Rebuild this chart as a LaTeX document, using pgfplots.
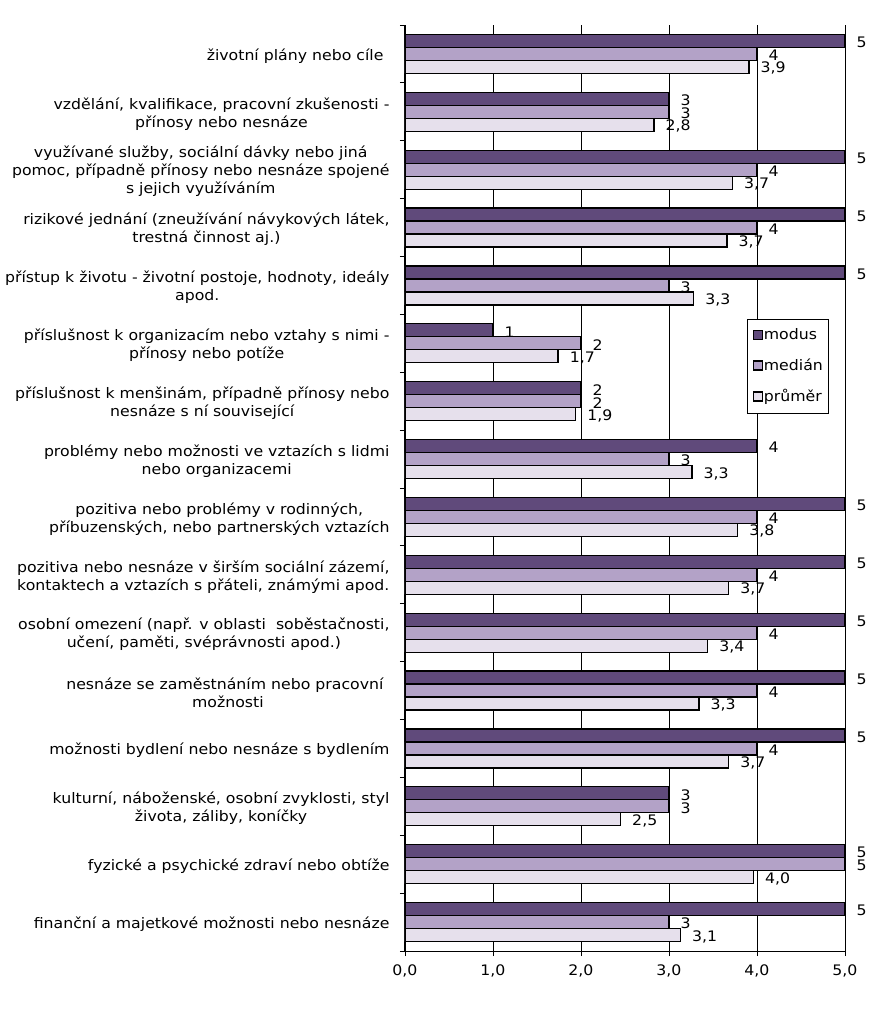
\documentclass[border=0pt]{standalone}
\usepackage{pgfplots}
\pgfplotsset{compat=1.18}
\usepackage{pgfplotstable}
\usepackage{fontspec}
\setmainfont{DejaVu Sans}[FakeStretch=1.085]
\definecolor{cmod}{HTML}{604A7B}
\definecolor{cmed}{HTML}{B3A2C7}
\definecolor{cavg}{HTML}{E6E0EC}

\pgfplotstableread{
y x lab
0 5 5
1 3 3
2 5 5
3 5 5
4 5 5
5 1 1
6 2 2
7 4 4
8 5 5
9 5 5
10 5 5
11 5 5
12 5 5
13 3 3
14 5 5
15 5 5
}\modus
\pgfplotstableread{
y x lab
0 4 4
1 3 3
2 4 4
3 4 4
4 3 3
5 2 2
6 2 2
7 3 3
8 4 4
9 4 4
10 4 4
11 4 4
12 4 4
13 3 3
14 5 5
15 3 3
}\median
\pgfplotstableread{
y x lab
0 3.91 {3,9}
1 2.83 {2,8}
2 3.72 {3,7}
3 3.66 {3,7}
4 3.28 {3,3}
5 1.74 {1,7}
6 1.94 {1,9}
7 3.26 {3,3}
8 3.78 {3,8}
9 3.68 {3,7}
10 3.44 {3,4}
11 3.34 {3,3}
12 3.68 {3,7}
13 2.45 {2,5}
14 3.96 {4,0}
15 3.13 {3,1}
}\prumer

\newcommand{\lf}{\fontsize{14.5}{18}\selectfont}

\begin{document}
\begin{tikzpicture}
\begin{axis}[
  at={(0pt,0pt)}, anchor=south west,
  scale only axis, width=440pt, height=926pt,
  xbar=0pt, bar width=13pt,
  xmin=0, xmax=5,
  ymin=-0.5, ymax=15.5, y dir=reverse,
  axis x line*=bottom, axis y line*=left,
  axis line style={-, line width=1pt, black},
  xtick={0,...,5}, xmajorgrids,
  grid style={black, line width=0.9pt},
  xticklabel style={font=\lf, yshift=-5pt},
  /pgf/number format/fixed, /pgf/number format/fixed zerofill,
  /pgf/number format/precision=1, /pgf/number format/use comma,
  /pgf/number format/assume math mode=true,
  tick align=outside,
  major tick length=5pt, minor tick length=5pt,
  tick style={black, line width=0.9pt},
  ytick={0,...,15},
  major y tick style={draw=none},
  minor ytick={-0.5,0.5,...,15.5},
  yticklabel style={font=\lf, align=center, xshift=-7pt, yshift=-2pt},
  yticklabels={
    {životní plány nebo cíle\hspace*{6pt}},
    {vzdělání, kvalifikace, pracovní zkušenosti -\\přínosy nebo nesnáze},
    {využívané služby, sociální dávky nebo jiná\\pomoc, případně přínosy nebo nesnáze spojené\\s jejich využíváním},
    {rizikové jednání (zneužívání návykových látek,\\trestná činnost aj.)},
    {přístup k životu - životní postoje, hodnoty, ideály\\apod.},
    {příslušnost k organizacím nebo vztahy s nimi -\\přínosy nebo potíže},
    {příslušnost k menšinám, případně přínosy nebo\\nesnáze s ní související},
    {problémy nebo možnosti ve vztazích s lidmi\\nebo organizacemi},
    {pozitiva nebo problémy v rodinných,\\příbuzenských, nebo partnerských vztazích},
    {pozitiva nebo nesnáze v širším sociální zázemí,\\kontaktech a vztazích s přáteli, známými apod.},
    {osobní omezení (např. v oblasti \ soběstačnosti,\\učení, paměti, svéprávnosti apod.)},
    {nesnáze se zaměstnáním nebo pracovní\hspace*{6pt}\\možnosti},
    {možnosti bydlení nebo nesnáze s bydlením},
    {kulturní, náboženské, osobní zvyklosti, styl\\života, záliby, koníčky},
    {fyzické a psychické zdraví nebo obtíže},
    {finanční a majetkové možnosti nebo nesnáze}
  },
  nodes near coords,
  point meta=explicit symbolic,
  nodes near coords style={font=\lf, anchor=west, inner sep=0pt, xshift=11pt, yshift=-1.5pt, black},
  legend style={at={(0.778,0.683)}, anchor=north west, draw=black, line width=0.8pt,
    font=\lf, row sep=15.5pt, inner xsep=5pt, inner ysep=9pt,
    nodes={inner sep=1pt}},
  legend cell align=left,
]
\pgfplotsset{legend image code/.code={\draw[#1, line width=1.2pt] (0pt,-4.5pt) rectangle (9pt,4.5pt);}}
\addplot[fill=cmod, draw=black, line width=1.3pt, bar shift=13pt] table[x=x, y=y, meta=lab]{\modus};
\addplot[fill=cmed, draw=black, line width=1.3pt, bar shift=0pt] table[x=x, y=y, meta=lab]{\median};
\addplot[fill=cavg, draw=black, line width=1.3pt, bar shift=-13pt] table[x=x, y=y, meta=lab]{\prumer};
\legend{modus, medián, průměr}
\end{axis}
\path (-405pt,-58pt) rectangle (476pt,951pt);
\end{tikzpicture}
\end{document}
